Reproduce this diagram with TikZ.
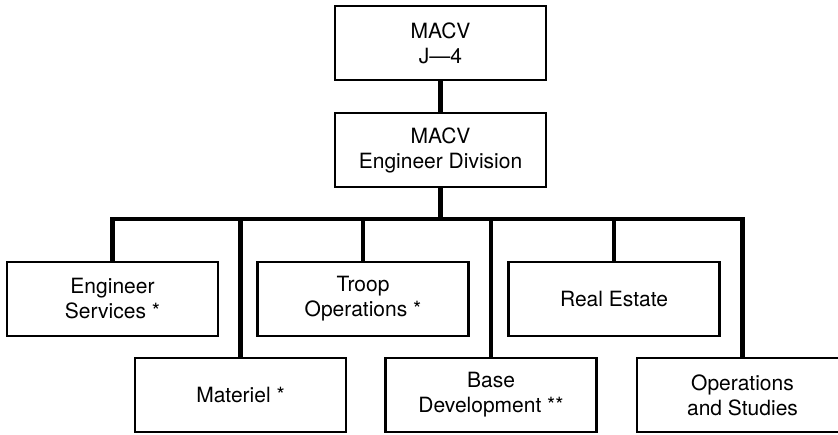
\documentclass[tikz,border=0pt]{standalone}
\usepackage{fontspec}
\setmainfont{TeX Gyre Heros}
\usepackage{xcolor}
\usepackage{tikz}
\usetikzlibrary{positioning}

\begin{document}
\begin{tikzpicture}[x=0.5pt, y=-0.5pt,
                          unit/.style={draw, line width=1.2pt, black, minimum width=105.5pt,
                                       minimum height=37pt, align=center, inner sep=0pt,
                                       font=\fontsize{10.5}{12.5}\selectfont},
                          link/.style={line width=2.1pt, black},
                         ]

\useasboundingbox (0,0) rectangle (838,434);

\node[unit] (j4)     at (440.5,43)  {MACV\\J---4};
\node[unit] (engdiv) at (440.5,150) {MACV\\Engineer Division};

\coordinate (bus) at (0,219);

\node[unit] (engsvc)   at (112.5,299) {Engineer\\Services *};
\node[unit] (troop)    at (363,299)   {Troop\\Operations *};
\node[unit] (realest)  at (614,299)   {Real Estate};
\node[unit] (materiel) at (240.5,395) {Materiel *};
\node[unit] (basedev)  at (491,395)   {Base\\Development **};
\node[unit] (opstud)   at (742.5,395) {Operations\\and Studies};

\draw[link] (j4) -- (engdiv);
\draw[link] (engdiv) -- (engdiv |- bus);

\draw[link] (engsvc.north) -- (engsvc.north |- bus) -- (opstud.north |- bus) -- (opstud.north);
\draw[link] (materiel.north) -- (materiel.north |- bus);
\draw[link] (troop.north) -- (troop.north |- bus);
\draw[link] (basedev.north) -- (basedev.north |- bus);
\draw[link] (realest.north) -- (realest.north |- bus);

\end{tikzpicture}
\end{document}
